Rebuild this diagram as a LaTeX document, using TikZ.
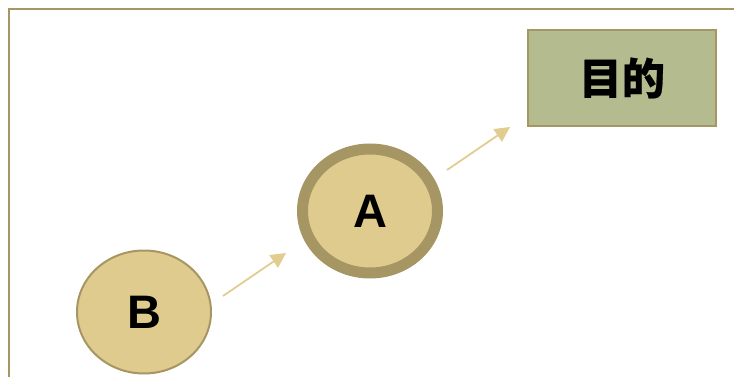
\documentclass[tikz,border=0pt]{standalone}
\usepackage{fontspec}
\setmainfont{Liberation Sans}
\newfontfamily\cjk[BoldFeatures={FakeBold=0.6}]{Noto Sans CJK SC}
\usetikzlibrary{shapes.geometric,arrows.meta}
\definecolor{frameC}{HTML}{A69664}
\definecolor{fillC}{HTML}{DFCB8D}
\definecolor{rectC}{HTML}{B4BB8E}
\definecolor{arrowC}{HTML}{E0CD8F}
\tikzset{
  bubble/.style={ellipse, draw=frameC, fill=fillC, inner sep=0pt,
    font=\fontsize{47}{47}\selectfont\bfseries},
  goalbox/.style={rectangle, draw=frameC, fill=rectC, line width=2pt, inner sep=0pt,
    minimum width=188pt, minimum height=96pt, font=\cjk\fontsize{43}{43}\selectfont\bfseries},
  flow/.style={draw=arrowC, line width=1.8pt, -{Triangle[length=15pt,width=15pt]}}
}
\begin{document}
\begin{tikzpicture}[x=1pt,y=-1pt]
\useasboundingbox (0,0) rectangle (734,377);
\draw[frameC, line width=2pt] (9,378) -- (9,9) -- (735,9);
\node[bubble, line width=2pt, minimum width=134pt, minimum height=123pt] (B) at (144,312) {B};
\node[bubble, line width=11pt, minimum width=135pt, minimum height=124pt] (A) at (370,211) {A};
\node[goalbox] (G) at (622,78) {\raisebox{-4pt}{目的}};
\coordinate (b1) at (223,296);
\coordinate (a1) at (286,253);
\coordinate (a2) at (447,170);
\coordinate (g1) at (510,127);
\draw[flow] (b1) -- (a1);
\draw[flow] (a2) -- (g1);
\end{tikzpicture}
\end{document}
